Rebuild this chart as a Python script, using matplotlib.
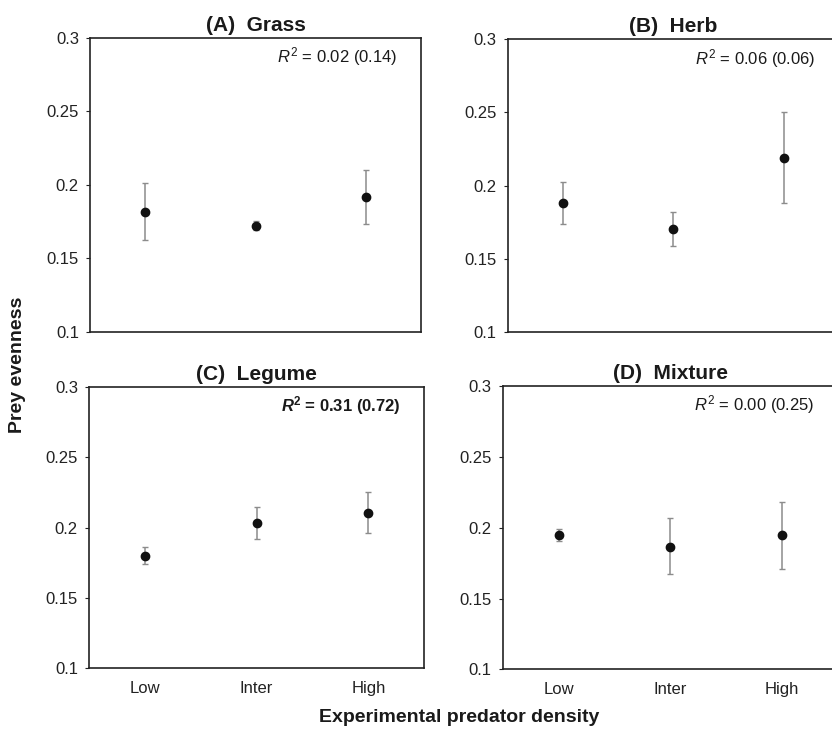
import matplotlib
matplotlib.use("Agg")
import matplotlib.pyplot as plt
import numpy as np

plt.rcParams['font.family'] = ['Liberation Sans', 'DejaVu Sans']
plt.rcParams['mathtext.fontset'] = 'custom'
plt.rcParams['mathtext.rm'] = 'Liberation Sans'
plt.rcParams['mathtext.it'] = 'Liberation Sans:italic'
plt.rcParams['mathtext.bf'] = 'Liberation Sans:bold'
plt.rcParams['mathtext.bfit'] = 'Liberation Sans:bold:italic'

categories = ["Low", "Inter", "High"]
panel_titles = ["(A)  Grass", "(B)  Herb", "(C)  Legume", "(D)  Mixture"]
r2_labels = ["0.02 (0.14)", "0.06 (0.06)", "0.31 (0.72)", "0.00 (0.25)"]
r2_bold = [False, False, True, False]

grass_mean = [0.1816, 0.1721, 0.1916]
grass_upper = [0.2012, 0.1753, 0.2098]
grass_lower = [0.1624, 0.1692, 0.1733]

herb_mean = [0.1882, 0.1703, 0.2190]
herb_upper = [0.2026, 0.1821, 0.2503]
herb_lower = [0.1737, 0.1586, 0.1880]

legume_mean = [0.1801, 0.2033, 0.2104]
legume_upper = [0.1864, 0.2145, 0.2251]
legume_lower = [0.1744, 0.1921, 0.1962]

mixture_mean = [0.1949, 0.1867, 0.1949]
mixture_upper = [0.1993, 0.2067, 0.2182]
mixture_lower = [0.1904, 0.1676, 0.1709]

yticks = [0.1, 0.15, 0.2, 0.25, 0.3]
ytick_labels = ["0.1", "0.15", "0.2", "0.25", "0.3"]

W, H = 832, 730
fig = plt.figure(figsize=(W / 100, H / 100), dpi=100)

def box(l, t, r, b):
    return [l / W, 1 - b / H, (r - l) / W, (b - t) / H]

positions = [
    box(90, 37.7, 421, 331.7),
    box(507.7, 39.3, 838.7, 331.7),
    box(89, 387, 424.3, 668.3),
    box(502.7, 386.3, 837.7, 669.3),
]
means = [grass_mean, herb_mean, legume_mean, mixture_mean]
uppers = [grass_upper, herb_upper, legume_upper, mixture_upper]
lowers = [grass_lower, herb_lower, legume_lower, mixture_lower]

spine_color = "#222222"
for i in range(4):
    ax = fig.add_axes(positions[i])
    x = np.arange(1, 4)
    m = np.array(means[i])
    up = np.array(uppers[i]) - m
    lo = m - np.array(lowers[i])
    ax.errorbar(x, m, yerr=[lo, up], fmt='none', ecolor='#8c8c8c',
                elinewidth=1.1, capsize=2.3, capthick=1.0, zorder=2)
    ax.plot(x, m, 'o', color='#111111', markersize=6, zorder=3)
    ax.set_xlim(0.5, 3.5)
    ax.set_ylim(0.1, 0.3)
    ax.set_yticks(yticks)
    ax.set_yticklabels(ytick_labels)
    ax.set_xticks(x)
    if i >= 2:
        ax.set_xticklabels(categories)
    else:
        ax.set_xticklabels([])
    ax.tick_params(axis='x', length=0, labelsize=12, colors='#222222', pad=9)
    ax.tick_params(axis='y', length=3, width=0.8, direction='out', labelsize=12,
                   colors='#222222', pad=5)
    for s in ax.spines.values():
        s.set_color(spine_color)
        s.set_linewidth(1.2)
    ax.set_title(panel_titles[i], fontsize=15, fontweight='bold', pad=5, color='#1a1a1a')
    if r2_bold[i]:
        txt = r"$\mathbfit{R}^{\mathbf{2}}$"
        ax.text(0.93, 0.935, txt + " = " + r2_labels[i], transform=ax.transAxes,
                ha='right', va='center', fontsize=12, fontweight='bold', color='#1a1a1a')
    else:
        ax.text(0.93, 0.935, r"$\mathit{R}^{2}$" + " = " + r2_labels[i], transform=ax.transAxes,
                ha='right', va='center', fontsize=12, color='#1a1a1a')

fig.text(18 / W, 1 - 365 / H, "Prey evenness", rotation=90, ha='center', va='center',
         fontsize=14, fontweight='bold', color='#1a1a1a')
fig.text(459 / W, 1 - 717 / H, "Experimental predator density", ha='center', va='center',
         fontsize=14, fontweight='bold', color='#1a1a1a')

fig.savefig("out.png", dpi=100)
